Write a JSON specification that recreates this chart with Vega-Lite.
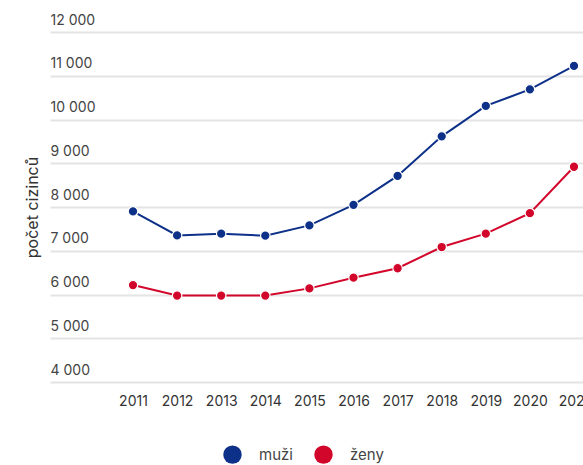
{
  "$schema": "https://vega.github.io/schema/vega-lite/v6.json",
  "autosize": {"type": "none"},
  "width": 533,
  "height": 350,
  "padding": {"left": 50, "top": 32, "right": 0, "bottom": 83},
  "background": "white",
  "config": {
    "view": {"stroke": null},
    "font": "Inter",
    "axis": {"labelFont": "Inter", "titleFont": "Inter"},
    "legend": {"labelFont": "Inter"}
  },
  "data": {
    "values": [
      {"year": 2011, "sex": "muži", "value": 7900},
      {"year": 2012, "sex": "muži", "value": 7350},
      {"year": 2013, "sex": "muži", "value": 7390},
      {"year": 2014, "sex": "muži", "value": 7345},
      {"year": 2015, "sex": "muži", "value": 7580},
      {"year": 2016, "sex": "muži", "value": 8050},
      {"year": 2017, "sex": "muži", "value": 8710},
      {"year": 2018, "sex": "muži", "value": 9615},
      {"year": 2019, "sex": "muži", "value": 10310},
      {"year": 2020, "sex": "muži", "value": 10690},
      {"year": 2021, "sex": "muži", "value": 11225},
      {"year": 2011, "sex": "ženy", "value": 6215},
      {"year": 2012, "sex": "ženy", "value": 5975},
      {"year": 2013, "sex": "ženy", "value": 5975},
      {"year": 2014, "sex": "ženy", "value": 5975},
      {"year": 2015, "sex": "ženy", "value": 6140},
      {"year": 2016, "sex": "ženy", "value": 6385},
      {"year": 2017, "sex": "ženy", "value": 6600},
      {"year": 2018, "sex": "ženy", "value": 7085},
      {"year": 2019, "sex": "ženy", "value": 7390},
      {"year": 2020, "sex": "ženy", "value": 7860},
      {"year": 2021, "sex": "ženy", "value": 8920}
    ]
  },
  "encoding": {
    "x": {
      "field": "year",
      "type": "quantitative",
      "scale": {"domain": [2009.118, 2021.204], "nice": false, "zero": false},
      "axis": {
        "values": [2011, 2012, 2013, 2014, 2015, 2016, 2017, 2018, 2019, 2020, 2021],
        "format": "d",
        "title": null,
        "grid": false,
        "domain": false,
        "ticks": false,
        "labelPadding": 12,
        "labelFontSize": 14,
        "labelColor": "#333333",
        "labelFlush": false,
        "labelOverlap": false
      }
    },
    "y": {
      "field": "value",
      "type": "quantitative",
      "scale": {"domain": [4000, 12000], "nice": false, "zero": false},
      "axis": {
        "values": [4000, 5000, 6000, 7000, 8000, 9000, 10000, 11000, 12000],
        "labelExpr": "replace(format(datum.value, ',d'), ',', ' ')",
        "title": "počet cizinců",
        "titleFontSize": 16,
        "titleFontWeight": "normal",
        "titleColor": "#333333",
        "titleX": -18,
        "titleY": 175,
        "titleAngle": -90,
        "titleAlign": "center",
        "titleBaseline": "middle",
        "grid": true,
        "gridColor": "#e4e4e4",
        "gridWidth": 2,
        "domain": false,
        "ticks": false,
        "labelAlign": "left",
        "labelBaseline": "alphabetic",
        "labelPadding": 0,
        "labelOffset": -8,
        "labelFontSize": 14,
        "labelColor": "#444444",
        "labelFlush": false,
        "labelOverlap": false
      }
    },
    "color": {
      "field": "sex",
      "type": "nominal",
      "scale": {"domain": ["muži", "ženy"], "range": ["#0d3089", "#d2062a"]},
      "legend": {
        "title": null,
        "orient": "none",
        "direction": "horizontal",
        "legendX": 173,
        "legendY": 413,
        "symbolType": "circle",
        "symbolSize": 340,
        "symbolStrokeWidth": 0,
        "symbolOpacity": 1,
        "labelFontSize": 15,
        "labelColor": "#444444",
        "labelOffset": 17,
        "columnPadding": 21
      }
    }
  },
  "layer": [
    {"mark": {"type": "line", "strokeWidth": 2}},
    {"mark": {"type": "point", "filled": true, "size": 90, "opacity": 1, "stroke": "white", "strokeWidth": 1.2}}
  ]
}
